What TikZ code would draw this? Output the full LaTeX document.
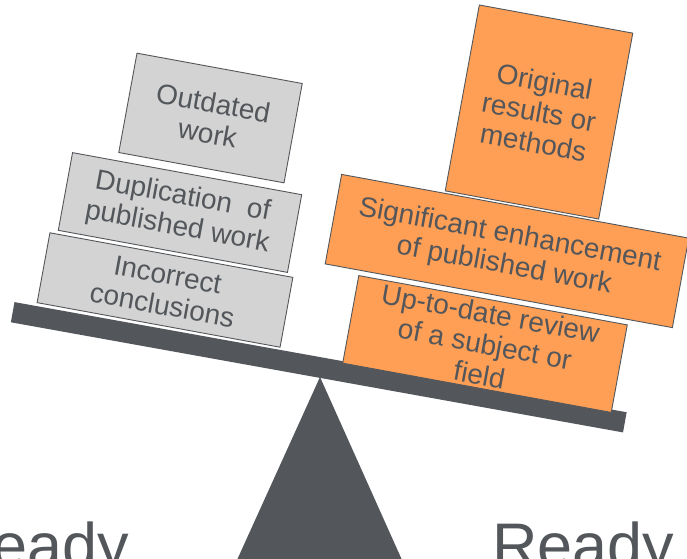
\documentclass[tikz,border=0pt]{standalone}
\usepackage{fontspec}
\setmainfont{Liberation Sans}
\definecolor{darkgr}{HTML}{53565A}
\definecolor{lightgr}{HTML}{D3D3D3}
\definecolor{orng}{HTML}{FF9F55}
\begin{document}
\begin{tikzpicture}[x=1pt,y=-1pt,
  blk/.style={rectangle, draw=darkgr, line width=0.9pt, inner sep=0pt, align=center,
     text=darkgr, font=\fontsize{28}{31}\selectfont, rotate=-10.4},
  greyblk/.style={blk, fill=lightgr},
  orangeblk/.style={blk, fill=orng},
  bigword/.style={text=darkgr, font=\fontsize{63}{70}\selectfont, inner sep=0pt, anchor=base west}]
\useasboundingbox (0,0) rectangle (687,558);
\clip (0,0) rectangle (687,558);
% fulcrum
\fill[darkgr] (320,377) -- (402,560) -- (237,560) -- cycle;
% beam
\node[rectangle, fill=darkgr, minimum width=622pt, minimum height=20.5pt, inner sep=0pt, rotate=-10.2] (beam) at (318.75,367.25) {};
% left stack
\node[greyblk, minimum width=247pt, minimum height=71pt] (incorrect) at (165,290) {Incorrect\\conclusions};
\node[greyblk, minimum width=233pt, minimum height=79pt] (duplication) at (180,212.5) {Duplication\ \ of\\published work};
\node[greyblk, minimum width=168pt, minimum height=101pt] (outdated) at (210.5,118) {Outdated\\work};
% right stack
\node[orangeblk, minimum width=273pt, minimum height=89pt] (review) at (485,344) {Up-to-date review\\of a subject or\\field};
\node[orangeblk, minimum width=156pt, minimum height=189pt] (original) at (539,112) {Original\\results or\\methods};
\node[orangeblk, minimum width=353pt, minimum height=91pt] (significant) at (507,251) {Significant enhancement\\of published work};
% labels
\node[bigword] (readyL) at (-53,567) {Ready};
\node[bigword] (readyR) at (492,567) {Ready};
\end{tikzpicture}
\end{document}
